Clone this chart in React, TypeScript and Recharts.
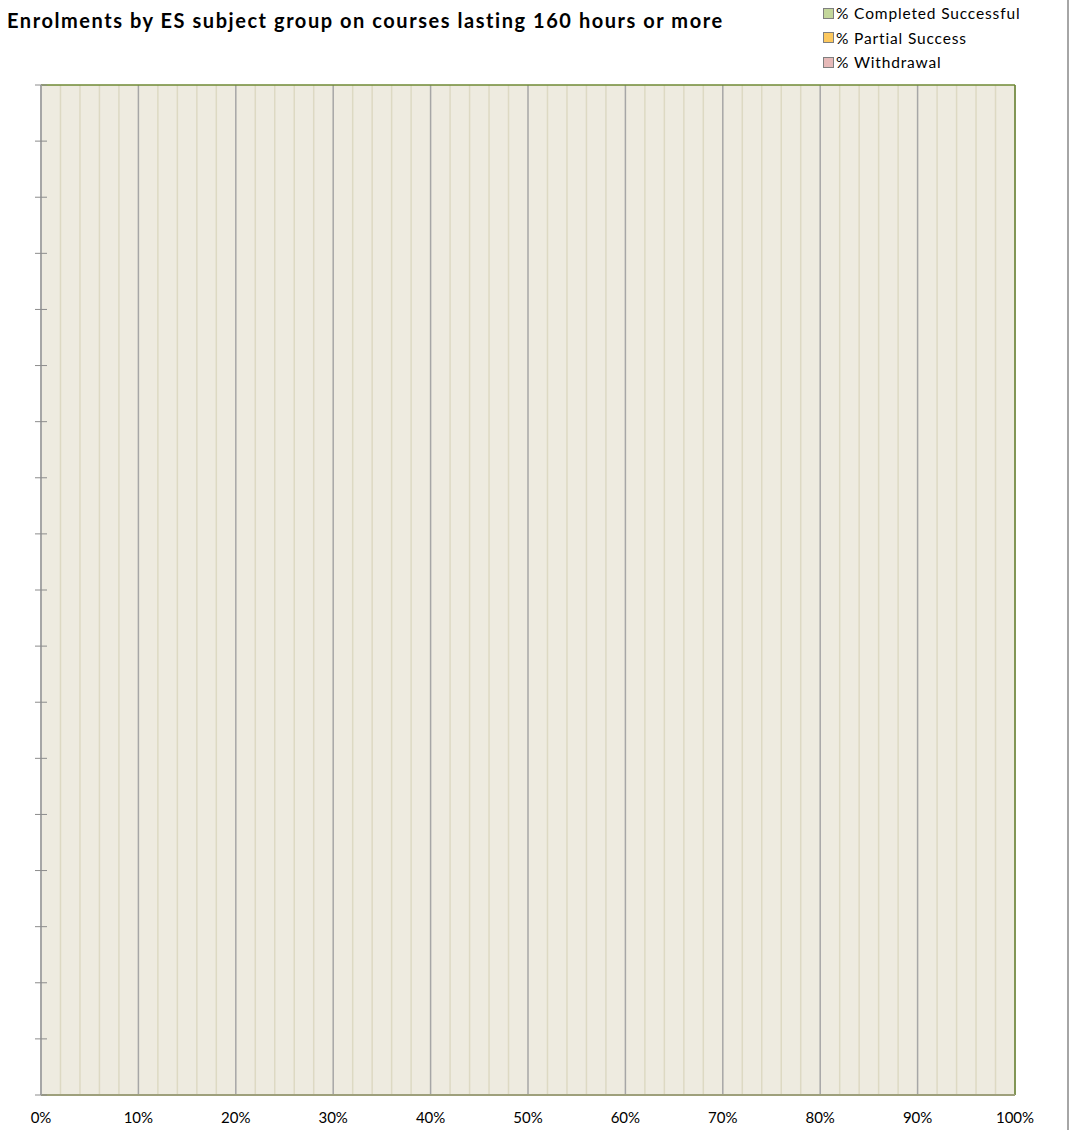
import React from "react";
import {
  BarChart,
  Bar,
  XAxis,
  YAxis,
  CartesianGrid,
  ReferenceLine,
} from "recharts";

// 18 subject groups on the category axis; the source shows no bars at all
const subjectGroups = [
  "G01", "G02", "G03", "G04", "G05", "G06", "G07", "G08", "G09",
  "G10", "G11", "G12", "G13", "G14", "G15", "G16", "G17", "G18",
];

const completedSuccessful = [
  null, null, null, null, null, null, null, null, null,
  null, null, null, null, null, null, null, null, null,
];
const partialSuccess = [
  null, null, null, null, null, null, null, null, null,
  null, null, null, null, null, null, null, null, null,
];
const withdrawal = [
  null, null, null, null, null, null, null, null, null,
  null, null, null, null, null, null, null, null, null,
];

const majorTicks = [0, 0.1, 0.2, 0.3, 0.4, 0.5, 0.6, 0.7, 0.8, 0.9, 1];
const minorTicks = [
  0.02, 0.04, 0.06, 0.08, 0.12, 0.14, 0.16, 0.18, 0.22, 0.24, 0.26, 0.28,
  0.32, 0.34, 0.36, 0.38, 0.42, 0.44, 0.46, 0.48, 0.52, 0.54, 0.56, 0.58,
  0.62, 0.64, 0.66, 0.68, 0.72, 0.74, 0.76, 0.78, 0.82, 0.84, 0.86, 0.88,
  0.92, 0.94, 0.96, 0.98,
];

const series = [
  { key: "completed", name: "% Completed Successful", color: "#c3d69b" },
  { key: "partial", name: "% Partial Success", color: "#fcc85e" },
  { key: "withdrawal", name: "% Withdrawal", color: "#e6b9b8" },
];

const data = subjectGroups.map((g, i) => ({
  group: g,
  completed: completedSuccessful[i],
  partial: partialSuccess[i],
  withdrawal: withdrawal[i],
}));

const FONT = "Lato, 'Open Sans', sans-serif";

// Excel-style tick marks crossing the axis at the band boundaries
const boundaryTick = (props: any) => {
  const { x, y, payload, index } = props;
  const half = payload && payload.offset ? payload.offset : 0;
  const last = index === subjectGroups.length - 1;
  return (
    <g key={`t-${index}`}>
      <line x1={x - 6} x2={x + 6} y1={y - half} y2={y - half} stroke="#8c8c8c" strokeWidth={1} />
      {last && (
        <line x1={x - 6} x2={x + 6} y1={y + half} y2={y + half} stroke="#8c8c8c" strokeWidth={1} />
      )}
    </g>
  );
};

export default function App() {
  return (
    <div style={{ position: "relative", width: 1056, height: 1122 }}>
      <BarChart
        width={1056}
        height={1122}
        data={data}
        layout="vertical"
        margin={{ top: 77, right: 49, bottom: 5, left: 32 }}
      >
        <CartesianGrid
          horizontal={false}
          vertical
          fill="#eeebe0"
          fillOpacity={1}
          stroke="#a6a6a6"
          strokeWidth={1.5}
        />
        {minorTicks.map((t) => (
          <ReferenceLine key={t} x={t} stroke="#ddd9c3" strokeWidth={1.5} />
        ))}
        <XAxis
          type="number"
          domain={[0, 1]}
          ticks={majorTicks}
          interval={0}
          allowDataOverflow
          tickFormatter={(v: number) => `${Math.round(v * 100)}%`}
          tick={{ fontFamily: FONT, fontSize: 15, fill: "#000" }}
          tickLine={false}
          tickSize={0}
          tickMargin={17}
          axisLine={{ stroke: "#9ea07c", strokeWidth: 2 }}
          height={30}
        />
        <YAxis
          type="category"
          dataKey="group"
          width={1}
          interval={0}
          tickSize={0}
          tickMargin={0}
          tickLine={false}
          tick={boundaryTick}
          axisLine={{ stroke: "#a6a6a6", strokeWidth: 2 }}
        />
        <ReferenceLine y={subjectGroups[0]} position="start" stroke="#6f8a35" strokeWidth={1.5} />
        <ReferenceLine x={1} stroke="#6f8a35" strokeWidth={1.5} />
        {series.map((s) => (
          <Bar
            key={s.key}
            dataKey={s.key}
            name={s.name}
            stackId="a"
            fill={s.color}
            isAnimationActive={false}
          />
        ))}
      </BarChart>
      <div
        style={{
          position: "absolute",
          left: -1,
          top: 0,
          fontFamily: FONT,
          fontWeight: 700,
          fontSize: 20,
          letterSpacing: 1.55,
          lineHeight: "24px",
          whiteSpace: "nowrap",
          zIndex: 2,
        }}
      >
        Enrolments by ES subject group on courses lasting 160 hours or more
      </div>
      <div
        style={{
          position: "absolute",
          left: 815,
          top: -7,
          fontFamily: FONT,
          fontSize: 15.5,
          letterSpacing: 0.85,
          lineHeight: "24.5px",
          zIndex: 2,
        }}
      >
        {series.map((s) => (
          <div key={s.key} style={{ display: "flex", alignItems: "center", whiteSpace: "nowrap" }}>
            <span
              style={{
                display: "inline-block",
                width: 9,
                height: 9,
                background: s.color,
                border: "1px solid #7f7f7f",
                marginRight: 2,
              }}
            />
            {s.name}
          </div>
        ))}
      </div>
      <div
        style={{
          position: "fixed",
          left: 1067,
          top: 0,
          width: 2,
          height: 1130,
          background: "#a6a6a6",
          zIndex: 3,
        }}
      />
    </div>
  );
}
